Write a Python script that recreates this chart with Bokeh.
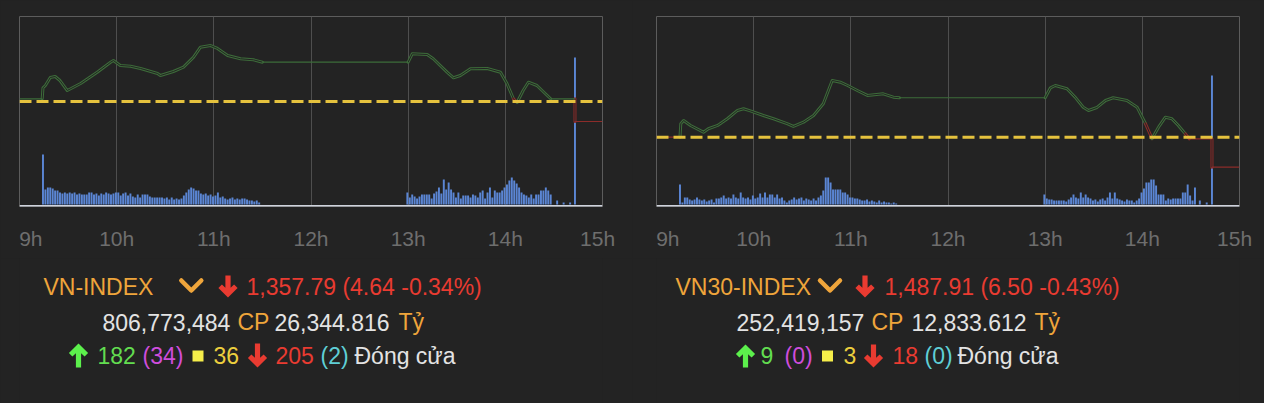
from bokeh.plotting import figure
from bokeh.models import Range1d, FixedTicker, Span, ColumnDataSource, Grid, LinearAxis
from bokeh.layouts import row, column
from bokeh.core.properties import value
from bokeh.embed import file_html
from bokeh.resources import INLINE

# ---------------------------------------------------------------- data
hour_ticks = ["09:00:00", "10:00:00", "11:00:00", "12:00:00", "13:00:00", "14:00:00", "15:00:00"]
hour_labels = ["9h", "10h", "11h", "12h", "13h", "14h", "15h"]

bar_step_min = 1.5
am_start = "09:14:30"
pm_start = "12:59:30"

# ---- VN-INDEX
vn_ref = 1362.43
vn_y_lo, vn_y_hi = 1338.07, 1382.15
vn_line_t = ["09:00:00", "09:14:00", "09:14:30", "09:16:00", "09:19:00", "09:22:00", "09:25:00",
             "09:29:30", "09:37:45", "09:48:00", "09:56:15", "09:58:00", "10:02:15", "10:08:30",
             "10:14:45", "10:25:15", "10:27:00", "10:35:00", "10:41:15", "10:47:30", "10:51:45",
             "10:58:00", "11:02:15", "11:08:30", "11:16:30", "11:24:30", "11:30:00", "13:00:00",
             "13:02:30", "13:11:45", "13:15:30", "13:24:00", "13:28:00", "13:32:15", "13:38:30",
             "13:48:45", "13:57:00", "14:01:00", "14:05:00", "14:07:15", "14:11:00", "14:14:15",
             "14:19:30", "14:24:45", "14:28:00", "14:43:00", "14:43:00", "15:00:00"]
vn_line_p = [1363.06, 1363.06, 1365.61, 1366.14, 1368.00, 1368.23, 1367.30,
             1364.98, 1366.60, 1369.23, 1371.55, 1371.94, 1370.78, 1370.62,
             1370.09, 1368.93, 1368.46, 1369.39, 1370.39, 1372.71, 1375.03,
             1375.42, 1374.73, 1373.10, 1372.34, 1372.10, 1371.55, 1371.55,
             1373.50, 1373.33, 1372.34, 1369.23, 1367.93, 1368.46, 1370.02,
             1370.10, 1369.23, 1366.61, 1363.06, 1362.20, 1364.98, 1366.91,
             1366.14, 1364.22, 1363.06, 1363.06, 1357.79, 1357.79]
vn_vol_am = [50, 15, 17, 17, 16, 14, 14, 12, 11, 12,
             11, 12, 11, 12, 10, 11, 10, 10, 10, 12,
             12, 10, 11, 9, 11, 10, 12, 11, 10, 11,
             12, 12, 9, 11, 12, 9, 11, 8, 7, 10,
             7, 10, 10, 10, 8, 7, 7, 7, 7, 7,
             6, 7, 5, 7, 5, 6, 5, 6, 9, 12,
             15, 17, 16, 14, 14, 11, 10, 11, 9, 10,
             8, 9, 12, 7, 8, 6, 5, 6, 7, 5,
             6, 5, 6, 6, 5, 4, 4, 3, 4, 2]
vn_vol_pm = [12, 7, 10, 8, 6, 8, 10, 10, 10, 10,
             6, 11, 13, 17, 11, 25, 15, 22, 15, 12,
             7, 12, 6, 9, 9, 9, 7, 10, 9, 7,
             12, 14, 6, 12, 17, 7, 14, 12, 12, 14,
             17, 20, 24, 27, 24, 21, 17, 12, 10, 9,
             7, 10, 6, 10, 10, 14, 14, 17, 14, 10]
vn_late_t = ["14:32:00", "14:36:00", "14:40:00", "14:43:00"]
vn_late_v = [4, 2, 2, 147]

vn_name = "VN-INDEX"
vn_change = "1,357.79 (4.64 -0.34%)"
vn_shares = "806,773,484"
vn_value = "26,344.816"
vn_counts = ["182", "(34)", "36", "205", "(2)"]

# ---- VN30-INDEX
vn30_ref = 1494.41
vn30_y_lo, vn30_y_hi = 1479.39, 1520.56
vn30_line_t = ["09:00:00", "09:14:30", "09:15:00", "09:16:45", "09:21:00", "09:29:00", "09:32:00",
               "09:37:45", "09:43:45", "09:50:00", "09:53:45", "09:58:00", "10:06:00", "10:12:15",
               "10:21:00", "10:24:30", "10:30:45", "10:37:00", "10:43:00", "10:48:30", "10:53:30",
               "10:58:00", "11:04:00", "11:10:15", "11:20:00", "11:26:15", "11:30:00", "13:00:00",
               "13:03:15", "13:06:15", "13:13:30", "13:18:30", "13:23:30", "13:26:45", "13:32:00",
               "13:37:15", "13:42:00", "13:50:30", "13:56:45", "14:02:00", "14:06:00", "14:10:00",
               "14:14:15", "14:18:15", "14:22:15", "14:26:30", "14:29:00", "14:43:00", "14:43:00",
               "15:00:00"]
vn30_line_p = [1494.41, 1494.41, 1497.31, 1498.03, 1496.95, 1495.49, 1496.23,
               1496.95, 1498.40, 1500.20, 1500.56, 1500.10, 1499.11, 1498.40,
               1497.31, 1496.73, 1497.66, 1499.11, 1501.65, 1506.70, 1506.33,
               1505.61, 1504.53, 1503.45, 1503.81, 1503.08, 1502.95, 1502.95,
               1505.11, 1505.61, 1504.90, 1503.08, 1500.91, 1500.20, 1500.85,
               1502.36, 1502.95, 1502.36, 1500.91, 1497.31, 1494.10, 1496.58,
               1498.74, 1498.40, 1496.95, 1495.15, 1494.06, 1494.06, 1487.91,
               1487.91]
vn30_vol_am = [20, 2, 7, 7, 5, 4, 5, 7, 5, 4,
               5, 3, 4, 5, 2, 6, 6, 7, 9, 6,
               7, 6, 10, 7, 6, 12, 7, 6, 7, 5,
               9, 6, 7, 11, 7, 12, 7, 10, 10, 7,
               10, 6, 7, 4, 2, 4, 5, 7, 5, 6,
               7, 4, 6, 5, 4, 6, 4, 7, 9, 14,
               27, 27, 22, 15, 15, 15, 15, 12, 12, 10,
               7, 7, 6, 6, 5, 4, 4, 5, 3, 4,
               3, 2, 4, 2, 3, 2, 2, 1, 2, 1]
vn30_vol_pm = [10, 6, 5, 5, 4, 4, 4, 4, 4, 3,
               5, 7, 10, 7, 6, 12, 7, 10, 7, 6,
               4, 5, 3, 5, 6, 4, 7, 12, 6, 12,
               6, 5, 4, 3, 5, 4, 4, 2, 4, 6,
               12, 16, 22, 22, 25, 25, 19, 10, 10, 10,
               4, 6, 5, 6, 6, 6, 6, 12, 12, 20,
               9, 4, 17]
vn30_late_t = ["14:35:30", "14:39:45", "14:43:00"]
vn30_late_v = [4, 2, 129]

vn30_name = "VN30-INDEX"
vn30_change = "1,487.91 (6.50 -0.43%)"
vn30_shares = "252,419,157"
vn30_value = "12,833.612"
vn30_counts = ["9", "(0)", "3", "18", "(0)"]

status_word = "Đóng cửa"

# ---------------------------------------------------------------- style
BG = "#232323"
FRAME = "#5c5c5c"
GRID = "#4e4e4e"
AXIS = "#cfd3dd"
BAR = "#5b86d4"
REF = "#e5c23e"
UP_LINE = "#3d6c3a"
DOWN_LINE = "#8c2c2a"
TICK = "#6e6e6e"
ORANGE = "#efa53b"
RED = "#e93b31"
WHITE = "#e3e3e3"
GREEN = "#62dd50"
GREEN_ARROW = "#5cf04c"
MAGENTA = "#cf4ddc"
YELLOW_SQ = "#f6ee4a"
YELLOW = "#eccf3e"
CYAN = "#5fcfd6"
FONT = "Liberation Sans"

FRAME_W = 583
PANEL_W = 632
CHART_TOP = 16
CHART_H = 190
CHART_BOTTOM = 52
TEXT_H = 403 - CHART_TOP - CHART_H - CHART_BOTTOM
# the end labels sit inside the box: shift (in minutes) of the first / last label anchor
LABEL_SHIFT_FIRST = 7
LABEL_SHIFT_LAST = -3


def to_min(s):
    h, m, sec = (int(v) for v in s.split(":"))
    return (h - 9) * 60 + m + sec / 60.0


def make_chart(line_t, line_p, ref, y_lo, y_hi, vol_am, vol_pm, late_t, late_v, b_left):
    p = figure(frame_width=FRAME_W, frame_height=CHART_H,
               min_border_left=b_left, min_border_right=PANEL_W - FRAME_W - b_left,
               min_border_top=CHART_TOP, min_border_bottom=CHART_BOTTOM,
               x_range=Range1d(0, 360), y_range=Range1d(y_lo, y_hi),
               x_axis_type=None, y_axis_type=None,
               output_backend="svg", toolbar_location=None,
               background_fill_color=BG, border_fill_color=BG,
               outline_line_color=FRAME, outline_line_width=1)
    p.extra_y_ranges = {"vol": Range1d(-2, 188)}
    ticks = [to_min(s) for s in hour_ticks]
    p.add_layout(Grid(dimension=0, ticker=FixedTicker(ticks=ticks[1:-1]),
                      grid_line_color=GRID, grid_line_width=1))

    # hour axis (labels only; the light base line is drawn as a span)
    label_pos = [int(round(v)) for v in ticks]
    label_pos[0] += LABEL_SHIFT_FIRST
    label_pos[-1] += LABEL_SHIFT_LAST
    xaxis = LinearAxis(ticker=FixedTicker(ticks=label_pos),
                       major_label_overrides={k: lab for k, lab in zip(label_pos, hour_labels)},
                       axis_line_color=None, major_tick_line_color=None,
                       minor_tick_line_color=None, major_tick_in=0, major_tick_out=0,
                       major_label_standoff=20,
                       major_label_text_font=FONT, major_label_text_font_size="21px",
                       major_label_text_color=TICK)
    p.add_layout(xaxis, "below")

    # volume bars
    a0 = to_min(am_start)
    p0 = to_min(pm_start)
    bx = [a0 + bar_step_min * i for i in range(len(vol_am))]
    bx += [p0 + bar_step_min * i for i in range(len(vol_pm))]
    bx += [to_min(s) for s in late_t]
    bv = list(vol_am) + list(vol_pm) + list(late_v)
    p.vbar(x=bx, top=bv, bottom=0, width=1.2, y_range_name="vol",
           fill_color=BAR, line_color=None)

    # price line, split into runs (moving parts drawn as a thin double line)
    t = [to_min(s) for s in line_t]
    runs = []
    for i in range(len(t) - 1):
        kind = "flat" if line_p[i] == line_p[i + 1] else "wave"
        col = DOWN_LINE if line_p[i + 1] <= ref else UP_LINE
        if runs and runs[-1]["kind"] == kind and runs[-1]["col"] == col:
            runs[-1]["x"].append(t[i + 1])
            runs[-1]["y"].append(line_p[i + 1])
        else:
            runs.append(dict(kind=kind, col=col, x=[t[i], t[i + 1]], y=[line_p[i], line_p[i + 1]]))
    waves = [r for r in runs if r["kind"] == "wave"]
    flats = [r for r in runs if r["kind"] == "flat"]
    p.multi_line(xs=[r["x"] for r in waves], ys=[r["y"] for r in waves],
                 line_color=[r["col"] for r in waves], line_width=3,
                 line_join="round", line_cap="round")
    p.multi_line(xs=[r["x"] for r in waves], ys=[r["y"] for r in waves],
                 line_color=BG, line_width=1, line_join="round")
    p.multi_line(xs=[r["x"] for r in flats], ys=[r["y"] for r in flats],
                 line_color=[r["col"] for r in flats], line_width=1.2)

    p.add_layout(Span(location=ref, dimension="width", line_color=REF,
                      line_width=3, line_dash="12 5"))
    p.add_layout(Span(location=y_lo, dimension="width", line_color=AXIS, line_width=3))
    return p


def arrow_poly(cx, top, bot, up):
    xs = [cx - 2.6, cx + 2.6, cx + 2.6, cx + 6.1, cx + 9.6, cx, cx - 9.6, cx - 6.1, cx - 2.6]
    ys = [top, top, bot - 9.7, bot - 13.1, bot - 9.6, bot, bot - 9.6, bot - 13.1, bot - 9.7]
    if up:
        ys = [top + bot - y for y in ys]
    return xs, ys


def make_text(texts, arrows, chevron_cx, square_cx, b_left):
    # frame aligned with the chart frame above; x in panel pixels, y downward
    f = figure(frame_width=FRAME_W, frame_height=TEXT_H,
               min_border_left=b_left, min_border_right=PANEL_W - FRAME_W - b_left,
               min_border_top=0, min_border_bottom=0,
               x_range=Range1d(b_left, b_left + FRAME_W), y_range=Range1d(TEXT_H, 0),
               x_axis_type=None, y_axis_type=None,
               output_backend="svg", toolbar_location=None,
               background_fill_color=BG, border_fill_color=BG, outline_line_color=None)
    src = ColumnDataSource(dict(x=[t[0] for t in texts], y=[t[1] for t in texts],
                                text=[t[2] for t in texts], color=[t[3] for t in texts]))
    f.text(x="x", y="y", text="text", text_color="color", source=src,
           text_font=value(FONT), text_font_size="23px",
           text_align="left", text_baseline="middle")
    pxs, pys, pcs = [], [], []
    for cx, top, bot, up, col in arrows:
        xs, ys = arrow_poly(cx, top, bot, up)
        pxs.append(xs)
        pys.append(ys)
        pcs.append(col)
    f.patches(xs=pxs, ys=pys, fill_color=pcs, line_color=None)
    f.line(x=[chevron_cx - 10, chevron_cx, chevron_cx + 10], y=[22, 32, 22],
           line_color=ORANGE, line_width=4.5, line_cap="round", line_join="round")
    f.scatter(x=[square_cx], y=[97.5], marker="square", size=11,
              fill_color=YELLOW_SQ, line_color=None)
    return f


vn_chart = make_chart(vn_line_t, vn_line_p, vn_ref, vn_y_lo, vn_y_hi,
                      vn_vol_am, vn_vol_pm, vn_late_t, vn_late_v, 19)
vn30_chart = make_chart(vn30_line_t, vn30_line_p, vn30_ref, vn30_y_lo, vn30_y_hi,
                        vn30_vol_am, vn30_vol_pm, vn30_late_t, vn30_late_v, 24)

vn_texts = [
    (43, 28, vn_name, ORANGE), (246, 28, vn_change, RED),
    (102, 63.5, vn_shares, WHITE), (237, 63.5, "CP", ORANGE),
    (274, 63.5, vn_value, WHITE), (398, 63.5, "Tỷ", ORANGE),
    (97, 97, vn_counts[0], GREEN), (142, 97, vn_counts[1], MAGENTA),
    (213, 97, vn_counts[2], YELLOW), (275, 97, vn_counts[3], RED),
    (320, 97, vn_counts[4], CYAN), (354, 97, status_word, WHITE),
]
vn_arrows = [(227.5, 17, 39, False, RED), (78, 85, 109, True, GREEN_ARROW),
             (257, 85, 109, False, RED)]
vn30_texts = [
    (43, 28, vn30_name, ORANGE), (252, 28, vn30_change, RED),
    (104, 63.5, vn30_shares, WHITE), (239, 63.5, "CP", ORANGE),
    (279, 63.5, vn30_value, WHITE), (402, 63.5, "Tỷ", ORANGE),
    (128, 97, vn30_counts[0], GREEN), (152, 97, vn30_counts[1], MAGENTA),
    (211, 97, vn30_counts[2], YELLOW), (260, 97, vn30_counts[3], RED),
    (292, 97, vn30_counts[4], CYAN), (325, 97, status_word, WHITE),
]
vn30_arrows = [(232.5, 17, 39, False, RED), (113, 86, 109, True, GREEN_ARROW),
               (241, 86, 109, False, RED)]

vn_text = make_text(vn_texts, vn_arrows, 190.8, 197.5, 19)
vn30_text = make_text(vn30_texts, vn30_arrows, 197.5, 195, 24)

layout = row(column(vn_chart, vn_text, spacing=0), column(vn30_chart, vn30_text, spacing=0), spacing=0)

html = file_html(layout, INLINE, title="VN-INDEX / VN30-INDEX")
html = html.replace("</head>", "<style>html,body{background:#232323;}</style></head>", 1)
open("out.html", "w").write(html)
